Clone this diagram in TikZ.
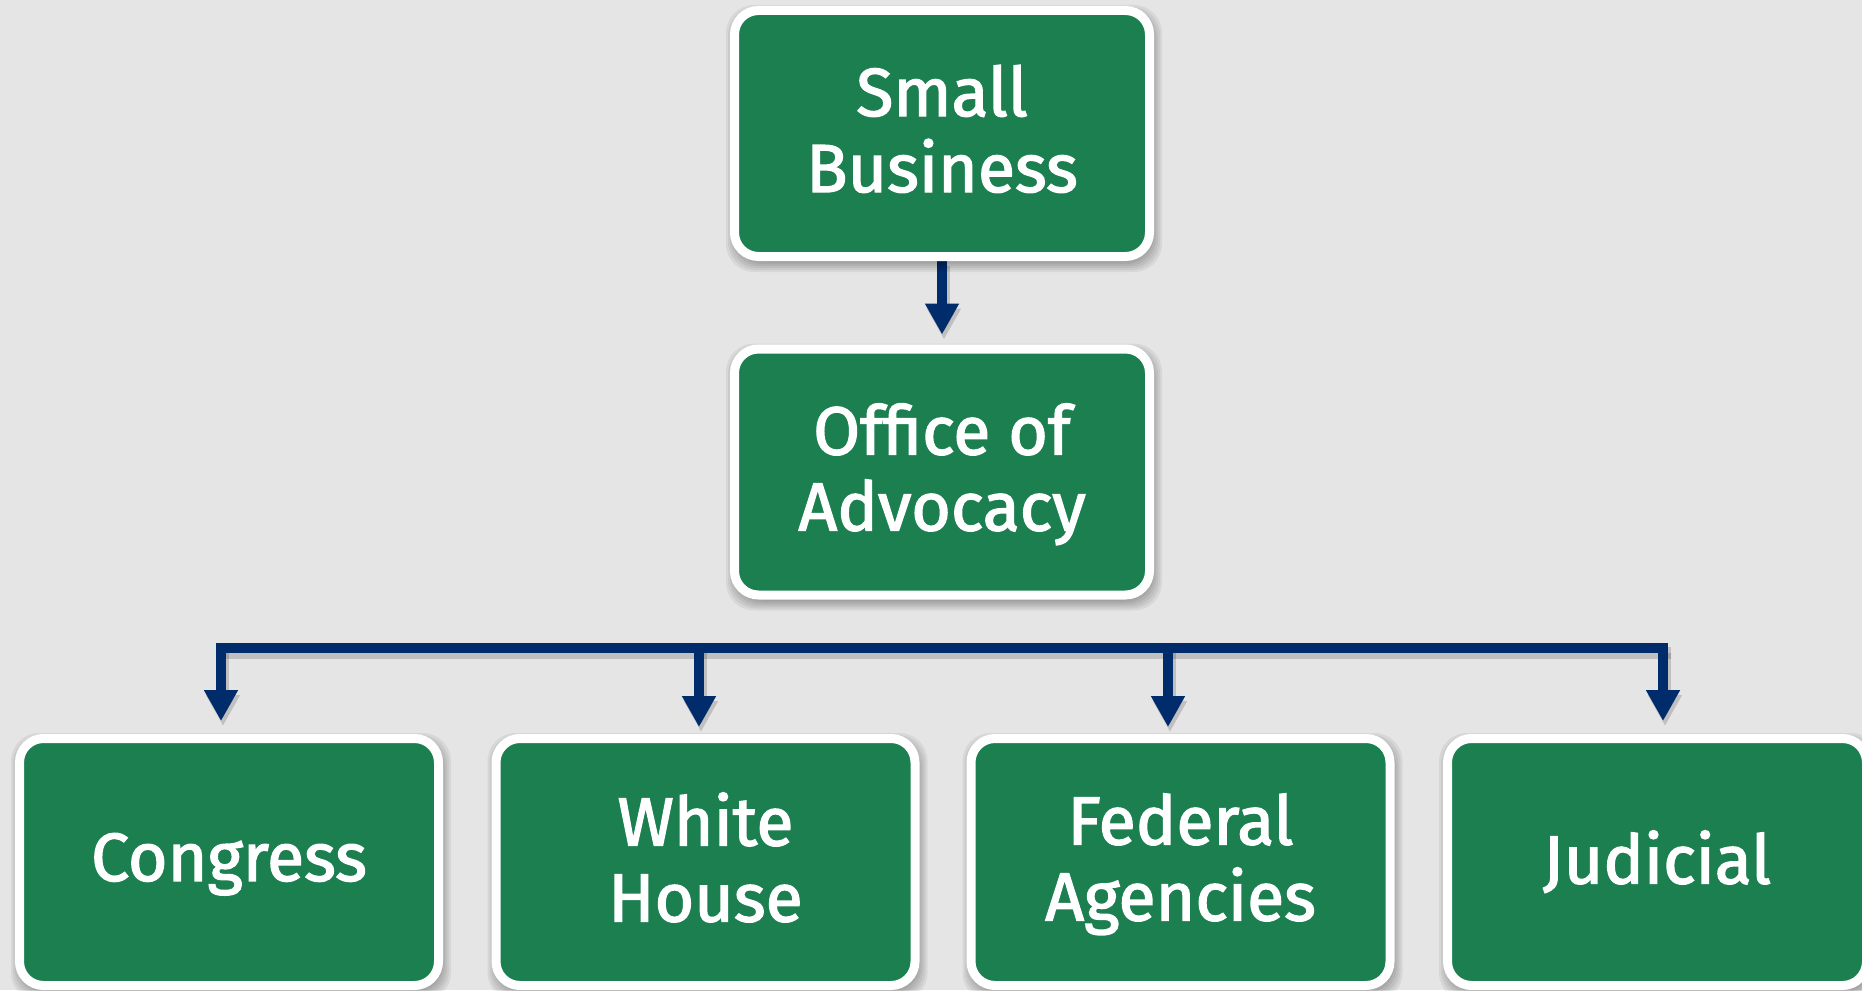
\documentclass[tikz,border=0pt]{standalone}
\usepackage{fontspec}
\setmainfont{Fira Sans}
\newfontfamily\boxfont{Fira Sans}[FakeBold=2]
\usetikzlibrary{arrows.meta,calc}
\definecolor{bgc}{RGB}{229,229,229}
\definecolor{boxgreen}{RGB}{27,127,80}
\definecolor{navy}{RGB}{0,44,108}
\pgfdeclarelayer{back}
\pgfdeclarelayer{lines}
\pgfsetlayers{back,lines,main}
\newcommand{\softshadow}[1]{%
  \foreach \r in {-6,-4,...,6} {
    \fill[black, opacity=0.06, rounded corners=28pt]
      ($(#1.south west)+(2-\r,5+\r)$) rectangle ($(#1.north east)+(2+\r,5-\r)$);
  }}
\begin{document}
\begin{tikzpicture}[x=1pt,y=-1pt,
  box/.style={draw=white, line width=9pt, fill=boxgreen, rounded corners=24pt,
    text=white, font=\boxfont\fontsize{68}{76}\selectfont, align=center, text depth=10pt,
    inner sep=0pt},
  topbox/.style={box, minimum width=415pt, minimum height=246pt},
  botbox/.style={box, minimum width=419pt, minimum height=247pt},
  conn/.style={draw=navy, line width=10pt},
  tipped/.style={-{Triangle[width=32pt,length=31pt]}},
  lshadow/.style={draw=black, opacity=0.16, line width=12pt, transform canvas={xshift=2pt,yshift=-5pt}},
]
\begin{pgfonlayer}{back}
  \fill[bgc] (0,0) rectangle (1862,990);
\end{pgfonlayer}
\useasboundingbox (0,0) rectangle (1862,990);

\node[topbox] (sb) at (942,133.5) {Small\\Business};
\node[topbox] (oa) at (942,472) {Office of\\Advocacy};
\node[botbox] (cg) at (229,862) {Congress};
\node[botbox] (wh) at (705.5,862) {White\\House};
\node[botbox] (fa) at (1180.5,862) {Federal\\Agencies};
\node[botbox] (jd) at (1657,862) {Judicial};

\coordinate (b1) at (221,648);
\coordinate (b2) at (699,648);
\coordinate (b3) at (1168,648);
\coordinate (b4) at (1663,648);

\begin{pgfonlayer}{lines}
  % line shadows
  \draw[lshadow, tipped, shorten >=10pt] (sb) -- (oa);
  \draw[lshadow, line cap=rect] (b1) -- (b4);
  \draw[lshadow, tipped, shorten >=13pt] (b1) -- (b1 |- cg.north);
  \draw[lshadow, tipped, shorten >=7pt] (b2) -- (b2 |- wh.north);
  \draw[lshadow, tipped, shorten >=7pt] (b3) -- (b3 |- fa.north);
  \draw[lshadow, tipped, shorten >=13pt] (b4) -- (b4 |- jd.north);
  % connectors
  \draw[conn, tipped, shorten >=10pt] (sb) -- (oa);
  \draw[conn, line cap=rect] (b1) -- (b4);
  \draw[conn, tipped, shorten >=13pt] (b1) -- (b1 |- cg.north);
  \draw[conn, tipped, shorten >=7pt] (b2) -- (b2 |- wh.north);
  \draw[conn, tipped, shorten >=7pt] (b3) -- (b3 |- fa.north);
  \draw[conn, tipped, shorten >=13pt] (b4) -- (b4 |- jd.north);
  % box shadows
  \softshadow{sb}
  \softshadow{oa}
  \softshadow{cg}
  \softshadow{wh}
  \softshadow{fa}
  \softshadow{jd}
\end{pgfonlayer}
\end{tikzpicture}
\end{document}
